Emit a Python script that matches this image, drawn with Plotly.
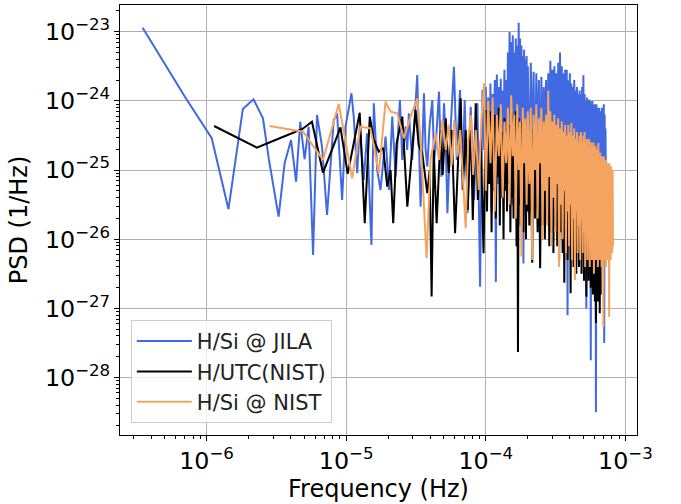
import numpy as np
import plotly.graph_objects as go

# ---------------- data (log10 values) ----------------
# H/Si @ JILA : low-frequency part (log10 f [Hz], log10 PSD [1/Hz])
jila_lo_logf = [-6.458, -6.154, -5.963, -5.843, -5.740, -5.664, -5.596, -5.553, -5.484, -5.441,
                -5.395, -5.359, -5.329, -5.298, -5.269, -5.237, -5.209, -5.173, -5.137, -5.089,
                -5.065, -5.029, -5.005, -4.962, -4.946, -4.921, -4.903, -4.874, -4.850, -4.819,
                -4.802, -4.778, -4.754, -4.718, -4.694, -4.670, -4.646, -4.615, -4.598, -4.575,
                -4.563, -4.551, -4.527, -4.511, -4.491, -4.467, -4.443, -4.431, -4.419, -4.402,
                -4.383, -4.370, -4.359, -4.335, -4.318, -4.299, -4.287, -4.275, -4.251, -4.228,
                -4.208, -4.185, -4.167, -4.151, -4.131, -4.108, -4.084, -4.060, -4.041, -4.024,
                -4.011]
jila_lo_logpsd = [-22.942, -23.944, -24.540, -25.566, -24.117, -23.977, -24.251, -24.854, -25.673, -24.902,
                  -24.565, -25.168, -24.301, -24.844, -24.373, -26.227, -24.204, -24.662, -25.649, -24.276,
                  -24.179, -25.432, -24.373, -23.890, -24.228, -25.046, -24.373, -25.143, -24.468, -26.082,
                  -24.035, -24.999, -25.288, -24.517, -25.288, -24.228, -25.095, -23.987, -24.854, -24.373,
                  -24.710, -24.179, -24.854, -24.277, -23.626, -25.529, -23.890, -24.710, -24.951, -24.348,
                  -23.987, -24.854, -24.662, -23.867, -25.095, -24.035, -24.565, -25.624, -24.373, -23.506,
                  -24.854, -23.843, -25.095, -23.987, -25.624, -24.084, -25.432, -24.035, -26.685, -23.843,
                  -24.710]
# H/Si @ JILA : high-frequency part (f in microhertz, log10 PSD)
jila_hf_uhz = [100, 102, 104, 106, 108, 110, 112, 114, 116, 118, 120, 122, 124, 126, 128, 130, 132, 134,
               136, 138, 140, 142, 144, 146, 148, 150, 152, 154, 156, 158, 160, 162, 164, 166, 168, 170,
               172, 174, 176, 178, 180, 182, 184, 186, 188, 190, 192, 194, 196, 198, 200,
               205, 210, 215, 220, 225, 230, 235, 240, 245, 250, 255, 260, 265, 270, 275, 280, 285,
               290, 295, 300, 305, 310, 315, 320, 325, 330, 335, 340, 345, 350, 355, 360, 365, 370,
               375, 380, 385, 390, 395, 400, 405, 410, 415, 420, 425, 430, 435, 440, 445, 450, 455,
               460, 465, 470, 475, 480, 485, 490, 495, 500, 505, 510, 515, 520, 525, 530, 535, 540,
               545, 550, 555, 560, 565, 570, 575, 580, 585, 590, 595, 600, 605, 610, 615, 620, 625,
               630, 635, 640, 645, 650, 655, 660, 665, 670, 675, 680, 685, 690, 695, 700, 705, 710,
               715, 720, 725]
jila_hf_logpsd = [-23.80, -25.1, -23.95, -24.9, -23.75, -25.6, -23.9, -24.8, -23.7, -26.62, -23.62, -25.2,
                  -23.8, -24.9, -23.68, -25.4, -23.85, -24.7, -23.55, -25.3, -23.7, -24.8, -23.3, -25.0,
                  -23.0, -24.9, -23.15, -25.5, -23.05, -24.6, -23.3, -25.2, -23.1, -24.7, -23.2, -25.1,
                  -22.87, -24.6, -23.1, -25.3, -23.2, -24.7, -23.35, -26.35, -23.26, -24.9, -23.4, -25.2,
                  -23.35, -24.8, -23.5,
                  -25.3, -23.45, -24.7, -23.58, -25.5, -23.6, -24.9, -23.7, -25.7, -23.65, -25.0, -23.8,
                  -24.8, -23.7, -25.4, -23.6, -24.9, -23.42, -25.2, -23.55, -24.8, -23.5, -25.6, -23.6,
                  -25.0, -23.45, -24.9, -23.3, -25.5, -23.5, -24.8, -23.6, -25.3, -23.55, -25.0, -23.55,
                  -27.1, -23.7, -25.2, -23.6, -24.9, -23.75, -25.6, -23.8, -25.0, -23.7, -25.4, -23.85,
                  -24.9, -23.8, -25.8, -23.9, -25.1, -23.85, -26.0, -23.9, -25.2, -23.8, -25.5, -23.63,
                  -25.3, -23.9, -25.0, -24.0, -27.0, -23.95, -25.4, -24.0, -25.6, -23.98, -25.5, -24.0,
                  -27.75, -24.05, -25.6, -24.0, -25.8, -24.1, -25.5, -24.05, -26.0, -24.1, -28.5, -24.05,
                  -25.7, -24.1, -25.9, -24.15, -25.6, -24.1, -26.1, -24.2, -25.8, -24.15, -26.0, -24.1,
                  -25.9, -24.15, -26.2, -24.05, -27.5, -24.2, -26.0, -24.4, -25.2]

# H/UTC(NIST)
utc_lo_logf = [-5.946, -5.640, -5.472, -5.316, -5.245, -5.166, -5.102, -5.041, -4.989, -4.903,
               -4.867, -4.831, -4.802, -4.766, -4.735, -4.706, -4.682, -4.663, -4.639, -4.598,
               -4.562, -4.531, -4.503, -4.481, -4.455, -4.419, -4.402, -4.388, -4.373, -4.352,
               -4.323, -4.309, -4.287, -4.266, -4.244, -4.220, -4.201, -4.180, -4.165, -4.144,
               -4.129, -4.108, -4.093, -4.072, -4.057, -4.036, -4.016, -4.000]
utc_lo_logpsd = [-24.363, -24.676, -24.536, -24.410, -24.301, -25.038, -24.710, -24.382, -25.056, -24.171,
                 -25.769, -24.228, -24.565, -24.734, -24.680, -25.240, -24.999, -25.769, -24.613, -24.228,
                 -25.529, -24.854, -24.131, -24.637, -24.757, -25.335, -24.999, -26.829, -24.710, -25.769,
                 -24.420, -25.071, -24.251, -25.042, -24.420, -25.913, -24.854, -23.962, -25.288, -24.420,
                 -25.577, -24.277, -25.721, -24.035, -25.432, -24.565, -26.202, -24.131]
utc_hf_uhz = [102, 104, 106, 108, 110, 112, 114, 116, 118, 120, 122, 124, 126, 128, 130, 132, 134, 136,
              138, 140, 142, 144, 146, 148, 150, 152, 154, 156, 158, 160, 162, 164, 166, 168, 170, 172,
              174, 176, 178, 180, 182, 184, 186, 188, 190, 192, 194, 196, 198, 200,
              205, 210, 215, 220, 225, 230, 235, 240, 245, 250, 255, 260, 265, 270, 275, 280, 285,
              290, 295, 300, 305, 310, 315, 320, 325, 330, 335, 340, 345, 350, 355, 360, 365, 370,
              375, 380, 385, 390, 395, 400, 405, 410, 415, 420, 425, 430, 435, 440, 445, 450, 455,
              460, 465, 470, 475, 480, 485, 490, 495, 500, 505, 510, 515, 520, 525, 530, 535, 540,
              545, 550, 555, 560, 565, 570, 575, 580, 585, 590, 595, 600, 605, 610, 615, 620, 625,
              630, 635, 640, 645, 650, 655, 660, 665]
utc_hf_logpsd = [-25.6, -24.3, -25.2, -24.15, -25.9, -24.4, -25.3, -24.2, -25.7, -24.35, -25.1, -24.1,
                 -25.8, -24.3, -25.4, -24.45, -26.0, -24.25, -25.3, -24.4, -25.6, -24.2, -25.2, -24.35,
                 -25.9, -24.5, -25.4, -24.2, -25.7, -24.3, -25.3, -24.15, -26.1, -24.3, -27.63, -24.25,
                 -25.5, -24.4, -25.8, -24.3, -25.4, -24.5, -25.9, -24.35, -25.5, -24.5, -26.0, -24.4,
                 -25.6, -24.45,
                 -25.8, -24.5, -26.34, -24.4, -25.7, -24.6, -25.9, -24.5, -26.42, -24.6, -25.8, -24.5,
                 -26.0, -24.65, -25.7, -24.5, -26.1, -24.6, -25.9, -24.7, -26.2, -24.55, -25.8, -24.7,
                 -26.1, -24.6, -26.3, -24.75, -25.9, -24.6, -26.2, -24.7, -26.63, -24.8, -26.0, -24.65,
                 -26.3, -24.8, -26.1, -24.7, -26.78, -24.75, -26.2, -24.6, -26.4, -24.8, -26.1, -24.65,
                 -26.5, -24.8, -26.2, -24.7, -26.4, -24.85, -26.3, -24.7, -26.5, -24.9, -26.2, -24.75,
                 -26.6, -24.9, -26.3, -24.8, -26.83, -24.95, -26.4, -24.8, -26.6, -25.0, -26.3, -24.85,
                 -26.7, -25.0, -26.4, -24.9, -26.8, -25.05, -26.5, -24.9, -26.9, -25.1, -27.21, -25.0,
                 -26.7, -25.1, -26.9, -25.0, -26.6, -25.2, -27.07, -25.1, -26.8]

# H/Si @ NIST
nist_lo_logf = [-5.549, -5.309, -5.166, -5.053, -4.957, -4.898, -4.826, -4.766, -4.718, -4.682,
                -4.634, -4.587, -4.539, -4.490, -4.467, -4.424, -4.395, -4.359, -4.335, -4.311,
                -4.287, -4.266, -4.244, -4.226, -4.203, -4.183, -4.165, -4.144, -4.126, -4.108,
                -4.090, -4.072, -4.050, -4.032, -4.012]
nist_lo_logpsd = [-24.363, -24.445, -24.854, -24.045, -25.118, -24.373, -24.396, -25.046, -24.012, -24.156,
                  -24.179, -24.540, -24.228, -23.962, -24.565, -26.275, -24.830, -24.468, -24.854, -24.276,
                  -24.710, -24.348, -24.927, -24.276, -24.806, -24.420, -25.071, -25.841, -24.565, -24.204,
                  -25.071, -24.420, -25.288, -24.276, -23.746]
nist_hf_uhz = [100, 104, 108, 112, 116, 120, 124, 128, 132, 136, 140, 144, 148, 152, 156, 160, 164, 168,
               172, 176, 180, 184, 188, 192, 196, 200,
               205, 210, 215, 220, 225, 230, 235, 240, 245, 250, 255, 260, 265, 270, 275, 280, 285,
               290, 295, 300, 305, 310, 315, 320, 325, 330, 335, 340, 345, 350, 355, 360, 365, 370,
               375, 380, 385, 390, 395, 400, 405, 410, 415, 420, 425, 430, 435, 440, 445, 450, 455,
               460, 465, 470, 475, 480, 485, 490, 495, 500, 505, 510, 515, 520, 525, 530, 535, 540,
               545, 550, 555, 560, 565, 570, 575, 580, 585, 590, 595, 600, 605, 610, 615, 620, 625,
               630, 635, 640, 645, 650, 655, 660, 665, 670, 675, 680, 685, 690, 695, 700, 705, 710,
               715, 720, 725, 730, 735, 740, 745, 750, 755, 760, 765, 770, 775, 780, 785, 790, 795,
               800, 805, 810, 815]
nist_hf_logpsd = [-25.3, -24.0, -24.9, -23.95, -25.6, -24.2, -24.8, -24.05, -25.4, -24.3, -24.9, -24.1,
                  -25.5, -23.92, -24.8, -24.2, -25.7, -24.05, -25.0, -24.3, -26.25, -24.1, -24.9, -24.25,
                  -25.5, -24.15,
                  -25.2, -24.1, -26.3, -24.2, -25.0, -24.05, -25.7, -24.25, -24.9, -24.1, -26.0, -24.3,
                  -25.3, -24.2, -25.8, -23.85, -25.1, -24.15, -26.1, -24.3, -25.4, -24.2, -25.9, -24.35,
                  -25.2, -24.25, -26.4, -24.4, -25.5, -24.3, -26.0, -24.45, -25.3, -24.35, -26.2, -24.5,
                  -25.6, -24.35, -26.1, -24.45, -25.5, -24.32, -26.3, -24.5, -25.7, -24.4, -26.59, -24.55,
                  -25.6, -24.45, -26.2, -24.6, -25.8, -24.5, -26.3, -24.45, -25.7, -24.6, -26.2, -24.5,
                  -25.9, -24.45, -26.4, -24.6, -25.8, -24.55, -26.3, -24.65, -26.0, -24.55, -26.4, -24.7,
                  -25.9, -24.6, -26.3, -24.7, -26.1, -24.6, -26.5, -24.75, -26.2, -24.65, -26.3, -24.7,
                  -26.0, -24.8, -26.4, -24.61, -26.2, -24.8, -26.3, -24.75, -26.1, -24.85, -26.4, -24.8,
                  -26.2, -24.9, -27.27, -24.8, -26.3, -24.9, -26.1, -24.85, -26.4, -24.95, -26.2, -24.9,
                  -26.3, -25.0, -26.1, -24.9, -27.12, -24.9, -26.2, -25.0, -26.3, -24.95, -26.1, -25.05,
                  -26.2, -25.0, -26.1]

series_names = ["H/Si @ JILA", "H/UTC(NIST)", "H/Si @ NIST"]
series_colors = ["#4169E1", "#000000", "#F4A460"]


def build(lo_logf, lo_logpsd, hf_uhz, hf_logpsd):
    n1 = min(len(lo_logf), len(lo_logpsd))
    n2 = min(len(hf_uhz), len(hf_logpsd))
    f = np.concatenate([10.0 ** np.array(lo_logf[:n1]), np.array(hf_uhz[:n2], dtype=float) * 1e-6])
    p = np.concatenate([10.0 ** np.array(lo_logpsd[:n1]), 10.0 ** np.array(hf_logpsd[:n2])])
    return f, p


data = [
    build(jila_lo_logf, jila_lo_logpsd, jila_hf_uhz, jila_hf_logpsd),
    build(utc_lo_logf, utc_lo_logpsd, utc_hf_uhz, utc_hf_logpsd),
    build(nist_lo_logf, nist_lo_logpsd, nist_hf_uhz, nist_hf_logpsd),
]

fig = go.Figure()
for (f, p), name, col in zip(data, series_names, series_colors):
    fig.add_trace(go.Scatter(x=f, y=p, mode="lines", name=name,
                             line=dict(color=col, width=2)))

axis_common = dict(
    type="log", showline=True, linecolor="black", linewidth=1, mirror=True,
    ticks="outside", ticklen=5, tickwidth=1, tickcolor="black",
    showgrid=True, gridcolor="#b0b0b0", gridwidth=1, zeroline=False,
    dtick=1, exponentformat="power", tickfont=dict(size=19, color="black"),
    automargin=False,
    minor=dict(ticks="outside", ticklen=3, tickwidth=1, tickcolor="black", showgrid=False),
)

fig.update_layout(
    width=681, height=504,
    margin=dict(l=120, r=44, t=5, b=69, autoexpand=False),
    plot_bgcolor="white", paper_bgcolor="white",
    font=dict(family="DejaVu Sans", color="black"),
    legend=dict(x=0.021, y=0.028, xanchor="left", yanchor="bottom",
                bgcolor="rgba(255,255,255,0.8)", bordercolor="#cccccc", borderwidth=1,
                itemwidth=55, tracegroupgap=0,
                font=dict(size=21, color="#222222")),
    xaxis=dict(range=[-6.62, -2.917],
               title=dict(text="Frequency (Hz)", font=dict(size=24), standoff=3),
               **axis_common),
    yaxis=dict(range=[-28.83, -22.614],
               title=dict(text="PSD (1/Hz)", font=dict(size=24), standoff=10),
               **axis_common),
)

fig.write_html("out.html", config={"displayModeBar": False},
               post_script="document.body.style.margin='0';document.body.style.overflow='hidden';")
